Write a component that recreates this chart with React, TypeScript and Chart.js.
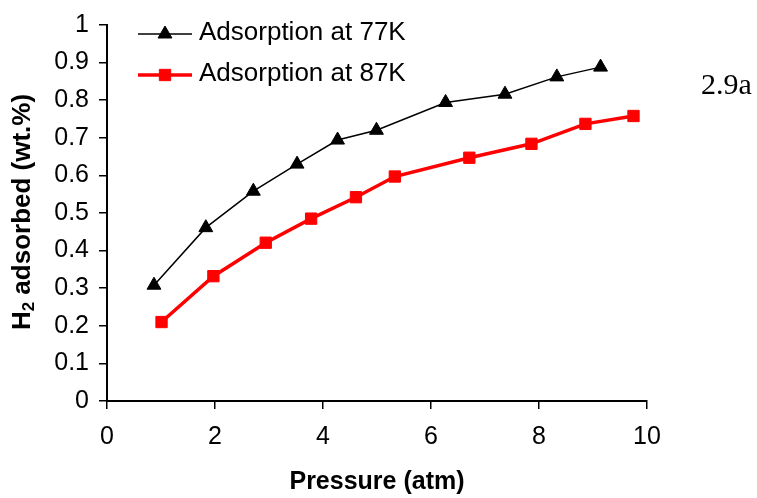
import React, { useEffect, useRef } from "react";
import { Chart, registerables } from "chart.js";

Chart.register(...registerables);

const pressure77 = [0.87, 1.83, 2.71, 3.52, 4.27, 4.99, 6.27, 7.37, 8.33, 9.14];
const adsorbed77 = [0.308, 0.461, 0.558, 0.63, 0.694, 0.72, 0.794, 0.816, 0.862, 0.888];
const pressure87 = [1.01, 1.97, 2.94, 3.78, 4.61, 5.33, 6.71, 7.86, 8.86, 9.75];
const adsorbed87 = [0.21, 0.332, 0.421, 0.485, 0.542, 0.597, 0.647, 0.684, 0.737, 0.758];
const seriesLabels = ["Adsorption at 77K", "Adsorption at 87K"];
const yTickLabels = ["0", "0.1", "0.2", "0.3", "0.4", "0.5", "0.6", "0.7", "0.8", "0.9", "1"];
const xTickLabels = ["0", "2", "4", "6", "8", "10"];
const xTitle = "Pressure (atm)";
const figureTag = "2.9a";

const SANS = "Arial, 'Liberation Sans', sans-serif";
const SERIF = "'Times New Roman', 'Liberation Serif', serif";

const overlayPlugin = {
  id: "overlay",
  afterDraw(chart: any) {
    const ctx = chart.ctx as CanvasRenderingContext2D;
    const area = chart.chartArea;
    ctx.save();
    // Legend
    const rows = [34, 75];
    chart.data.datasets.forEach((ds: any, i: number) => {
      const y = rows[i];
      ctx.strokeStyle = ds.borderColor;
      ctx.lineWidth = ds.borderWidth;
      ctx.beginPath();
      ctx.moveTo(138, y);
      ctx.lineTo(192, y);
      ctx.stroke();
      ctx.fillStyle = ds.backgroundColor;
      ctx.lineWidth = 1;
      const r = ds.pointRadius;
      ctx.beginPath();
      if (ds.pointStyle === "triangle") {
        ctx.moveTo(165, y - r);
        ctx.lineTo(165 + r * 0.866, y + r * 0.5);
        ctx.lineTo(165 - r * 0.866, y + r * 0.5);
        ctx.closePath();
      } else {
        const s = r * Math.SQRT1_2;
        ctx.rect(165 - s, y - s, 2 * s, 2 * s);
      }
      ctx.fill();
      ctx.stroke();
      ctx.fillStyle = "#000";
      ctx.font = `26px ${SANS}`;
      ctx.textAlign = "left";
      ctx.textBaseline = "middle";
      ctx.fillText(ds.label, 199, y - 1);
    });

    // X title
    ctx.fillStyle = "#000";
    ctx.font = `bold 25px ${SANS}`;
    ctx.textAlign = "center";
    ctx.textBaseline = "middle";
    ctx.fillText(xTitle, (area.left + area.right) / 2, 482);

    // Y title with subscript
    ctx.save();
    ctx.translate(23, (area.top + area.bottom) / 2 - 1);
    ctx.rotate(-Math.PI / 2);
    ctx.textAlign = "left";
    ctx.textBaseline = "middle";
    const big = `bold 26px ${SANS}`;
    const small = `bold 17px ${SANS}`;
    ctx.font = big;
    const wH = ctx.measureText("H").width;
    const rest = " adsorbed (wt.%)";
    const wRest = ctx.measureText(rest).width;
    ctx.font = small;
    const w2 = ctx.measureText("2").width;
    const total = wH + w2 + wRest;
    const x0 = -total / 2;
    ctx.font = big;
    ctx.fillText("H", x0, 0);
    ctx.font = small;
    ctx.fillText("2", x0 + wH, 6);
    ctx.font = big;
    ctx.fillText(rest, x0 + wH + w2, 0);
    ctx.restore();

    // Figure tag
    ctx.font = `30px ${SERIF}`;
    ctx.textAlign = "left";
    ctx.textBaseline = "alphabetic";
    ctx.fillText(figureTag, 701, 94);
    ctx.restore();
  },
};

export default function App() {
  const ref = useRef<HTMLCanvasElement>(null);
  useEffect(() => {
    if (!ref.current) return;
    const chart = new Chart(ref.current, {
      type: "scatter",
      data: {
        datasets: [
          {
            label: seriesLabels[0],
            data: pressure77.map((x, i) => ({ x, y: adsorbed77[i] })),
            showLine: true,
            borderColor: "#000000",
            backgroundColor: "#000000",
            borderWidth: 1.5,
            pointStyle: "triangle",
            pointRadius: 8,
            pointBorderWidth: 1,
            pointBorderColor: "#000000",
            pointBackgroundColor: "#000000",
          } as any,
          {
            label: seriesLabels[1],
            data: pressure87.map((x, i) => ({ x, y: adsorbed87[i] })),
            showLine: true,
            borderColor: "#ff0000",
            backgroundColor: "#ff0000",
            borderWidth: 3.5,
            pointStyle: "rect",
            pointRadius: 8,
            pointBorderWidth: 1,
            pointBorderColor: "#ff0000",
            pointBackgroundColor: "#ff0000",
          } as any,
        ],
      },
      options: {
        responsive: false,
        animation: false,
        layout: { padding: { top: 20, right: 110, left: 0, bottom: 0 } },
        plugins: {
          legend: { display: false },
          tooltip: { enabled: false },
          title: { display: false },
        },
        scales: {
          x: {
            type: "linear",
            min: 0,
            max: 10,
            afterFit: (s: any) => {
              s.height = 97;
            },
            afterBuildTicks: (s: any) => {
              s.ticks = xTickLabels.map((t) => ({ value: Number(t) }));
            },
            ticks: {
              color: "#000",
              font: { family: SANS, size: 25 },
              padding: 13,
              callback: (v: any, i: number) => xTickLabels[i],
              maxRotation: 0,
            },
            grid: {
              drawOnChartArea: false,
              drawTicks: true,
              tickLength: 8,
              color: "#000",
              lineWidth: 1.5,
            },
            border: { display: true, color: "#000", width: 2 },
          },
          y: {
            type: "linear",
            min: 0,
            max: 1,
            afterFit: (s: any) => {
              s.width = 107;
            },
            afterBuildTicks: (s: any) => {
              s.ticks = yTickLabels.map((t) => ({ value: Number(t) }));
            },
            ticks: {
              color: "#000",
              font: { family: SANS, size: 25 },
              padding: 10,
              callback: (v: any, i: number) => yTickLabels[i],
            },
            grid: {
              drawOnChartArea: false,
              drawTicks: true,
              tickLength: 8,
              color: "#000",
              lineWidth: 1.5,
            },
            border: { display: true, color: "#000", width: 2 },
          },
        },
      },
      plugins: [overlayPlugin],
    });
    return () => chart.destroy();
  }, []);
  return (
    <div style={{ position: "absolute", left: 0, top: 0, width: 757, height: 498, background: "#fff" }}>
      <canvas ref={ref} width={757} height={498} style={{ display: "block" }} />
    </div>
  );
}
